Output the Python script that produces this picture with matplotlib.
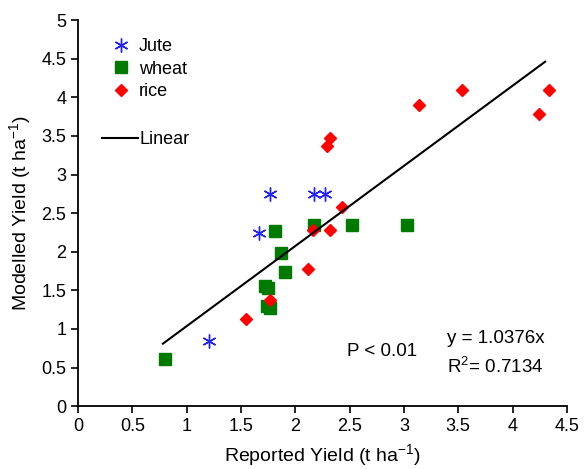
import matplotlib
matplotlib.use("Agg")
import matplotlib.pyplot as plt

plt.rcParams['font.family'] = ['Liberation Sans', 'DejaVu Sans']
plt.rcParams['mathtext.fontset'] = 'custom'
plt.rcParams['mathtext.rm'] = 'Liberation Sans'
plt.rcParams['mathtext.it'] = 'Liberation Sans'

# reported vs modelled yield (t/ha)
jute_x = [1.2, 1.665, 1.77, 2.17, 2.27]
jute_y = [0.85, 2.24, 2.75, 2.75, 2.75]

wheat_x = [0.8, 1.72, 1.75, 1.74, 1.77, 1.81, 1.87, 1.90, 2.17, 2.52, 3.03]
wheat_y = [0.61, 1.56, 1.53, 1.30, 1.27, 2.27, 1.99, 1.74, 2.35, 2.35, 2.35]

rice_x = [1.545, 1.77, 2.12, 2.16, 2.32, 2.43, 2.29, 2.32, 3.14, 3.53, 4.24, 4.34]
rice_y = [1.13, 1.38, 1.78, 2.28, 2.28, 2.58, 3.37, 3.47, 3.90, 4.09, 3.78, 4.09]

slope = 1.0376
line_x = [0.78, 4.3]

fig = plt.figure(figsize=(5.88, 4.69), dpi=100)
ax = fig.add_axes([0.133, 0.134, 0.831, 0.823])

h_jute, = ax.plot(jute_x, jute_y, linestyle='none', marker=(6, 2, 0), markersize=10,
                  color='#2020ff', markeredgewidth=1.0, label='Jute')
h_wheat, = ax.plot(wheat_x, wheat_y, linestyle='none', marker='s', markersize=8.5,
                   color='#007a00', label='wheat')
h_rice, = ax.plot(rice_x, rice_y, linestyle='none', marker='D', markersize=6.5,
                  color='#ff0000', label='rice')
h_lin, = ax.plot(line_x, [slope * v for v in line_x], color='black', linewidth=1.5,
                 label='Linear')

ax.set_xlim(0, 4.5)
ax.set_ylim(0, 5)
ax.set_xticks([0, 0.5, 1, 1.5, 2, 2.5, 3, 3.5, 4, 4.5])
ax.set_xticklabels(['0', '0.5', '1', '1.5', '2', '2.5', '3', '3.5', '4', '4.5'])
ax.set_yticks([0, 0.5, 1, 1.5, 2, 2.5, 3, 3.5, 4, 4.5, 5])
ax.set_yticklabels(['0', '0.5', '1', '1.5', '2', '2.5', '3', '3.5', '4', '4.5', '5'])
ax.tick_params(labelsize=13, direction='out', length=5, width=1.2)
ax.spines['top'].set_visible(False)
ax.spines['right'].set_visible(False)
ax.spines['left'].set_linewidth(1.3)
ax.spines['bottom'].set_linewidth(1.3)

ax.set_xlabel('Reported Yield (t ha$^{-1}$)', fontsize=14, labelpad=5)
ax.set_ylabel('Modelled Yield (t ha$^{-1}$)', fontsize=14, labelpad=6)

leg1 = ax.legend(handles=[h_jute, h_wheat, h_rice], loc='upper left',
                 bbox_to_anchor=(0.035, 0.995), frameon=False, fontsize=13,
                 handlelength=1.0, handletextpad=0.5, labelspacing=0.3)
ax.add_artist(leg1)
ax.legend(handles=[h_lin], loc='upper left', bbox_to_anchor=(0.015, 0.755),
          frameon=False, fontsize=13, handlelength=2.0, handletextpad=0.1)

ax.text(2.48, 0.65, 'P < 0.01', fontsize=13.5)
ax.text(3.4, 0.82, 'y = 1.0376x', fontsize=13.5)
ax.text(3.4, 0.43, 'R$^2$= 0.7134', fontsize=13.5)

fig.savefig('out.png', dpi=100)
